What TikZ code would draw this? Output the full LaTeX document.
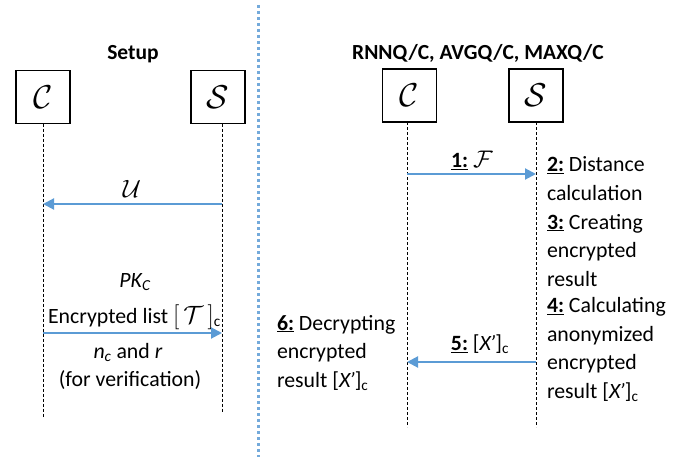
\documentclass[tikz,border=0pt]{standalone}
\usepackage{fix-cm}
\usepackage{fontspec}
\setmainfont{Carlito}
\usetikzlibrary{arrows.meta}
\definecolor{arrowblue}{HTML}{5B9BD5}
\begin{document}
\begin{tikzpicture}[x=1pt,y=-1pt,
  every node/.style={inner sep=0pt,outer sep=0pt,font=\fontsize{21.8}{24}\selectfont},
  actor/.style={draw,line width=1.2pt,minimum width=54pt,minimum height=53pt,font=\fontsize{33}{33}\selectfont},
  lifeline/.style={draw,line width=0.7pt,dash pattern=on 3pt off 2pt},
  msg/.style={draw=arrowblue,line width=2pt,-{Triangle[length=11pt,width=11pt]}},
  txt/.style={anchor=base west},
  ctxt/.style={anchor=base},
  ttl/.style={anchor=base,font=\fontsize{21.5}{24}\selectfont\bfseries}]
\useasboundingbox (0,0) rectangle (694,460);
% divider
\draw[arrowblue!85,line width=2.6pt,dash pattern=on 3pt off 3pt] (258.5,5) -- (258.5,457);
% titles
\node[ttl] (t1) at (133,60) {Setup};
\node[ttl] (t2) at (478,60) {RNNQ/C, AVGQ/C, MAXQ/C};
% actors left
\node[actor] (c1) at (43,97) {$\mathcal{C}$};
\node[actor] (s1) at (218,97) {$\mathcal{S}$};
\coordinate (c1e) at (43,417);
\coordinate (s1e) at (222,413);
\draw[lifeline] (c1.south) -- (c1e);
\draw[lifeline] (222,123.5) -- (s1e);
% actors right
\node[actor] (c2) at (409.5,95.5) {$\mathcal{C}$};
\node[actor] (s2) at (536,95.5) {$\mathcal{S}$};
\coordinate (c2e) at (407,427);
\coordinate (s2e) at (536,427);
\draw[lifeline] (407,122) -- (c2e);
\draw[lifeline] (s2.south) -- (s2e);
% left messages
\coordinate (u1) at (222,204);
\coordinate (u2) at (43,204);
\draw[msg] (u1) -- (u2);
\node[ctxt] (ul) at (132,197) {\fontsize{25}{25}\selectfont$\mathcal{U}$};
\node[ctxt] (pk) at (135,287) {\textit{PK\textsubscript{C}}};
\node[txt] (el) at (48,323) {Encrypted list \fontsize{25}{25}\selectfont$[\,\mathcal{T}\,]$\fontsize{21.8}{24}\selectfont\textsubscript{c}};
\coordinate (e1) at (43,333);
\coordinate (e2) at (222,333);
\draw[msg] (e1) -- (e2);
\node[ctxt] (nc) at (128,358) {\textit{n\textsubscript{c}} and \textit{r}};
\node[ctxt] (fv) at (130,386) {(for verification)};
% right messages
\coordinate (f1) at (407,174);
\coordinate (f2) at (536,174);
\draw[msg] (f1) -- (f2);
\node[ctxt] (fl) at (472,167.5) {\underline{\textbf{1:}} \fontsize{24}{24}\selectfont$\mathcal{F}$};
\coordinate (x1) at (536,362);
\coordinate (x2) at (407,362);
\draw[msg] (x1) -- (x2);
\node[ctxt] (xl) at (480,350.5) {\underline{\textbf{5:}} [\textit{X\kern-1pt\char"2019}]\textsubscript{c}};
% right text
\node[txt] (r1) at (547,171.5) {\underline{\textbf{2:}} Distance};
\node[txt] (r2) at (547,200.5) {calculation};
\node[txt] (r3) at (547,229) {\underline{\textbf{3:}} Creating};
\node[txt] (r4) at (547,257.5) {encrypted};
\node[txt] (r5) at (547,286) {result};
\node[txt] (r6) at (547,312.5) {\underline{\textbf{4:}} Calculating};
\node[txt] (r7) at (547,341) {anonymized};
\node[txt] (r8) at (547,369.5) {encrypted};
\node[txt] (r9) at (547,398) {result [\textit{X\kern-1pt\char"2019}]\textsubscript{c}};
% left text
\node[txt] (d1) at (277,330) {\underline{\textbf{6:}} Decrypting};
\node[txt] (d2) at (277,358.5) {encrypted};
\node[txt] (d3) at (277,387) {result [\textit{X\kern-1pt\char"2019}]\textsubscript{c}};
\end{tikzpicture}
\end{document}
